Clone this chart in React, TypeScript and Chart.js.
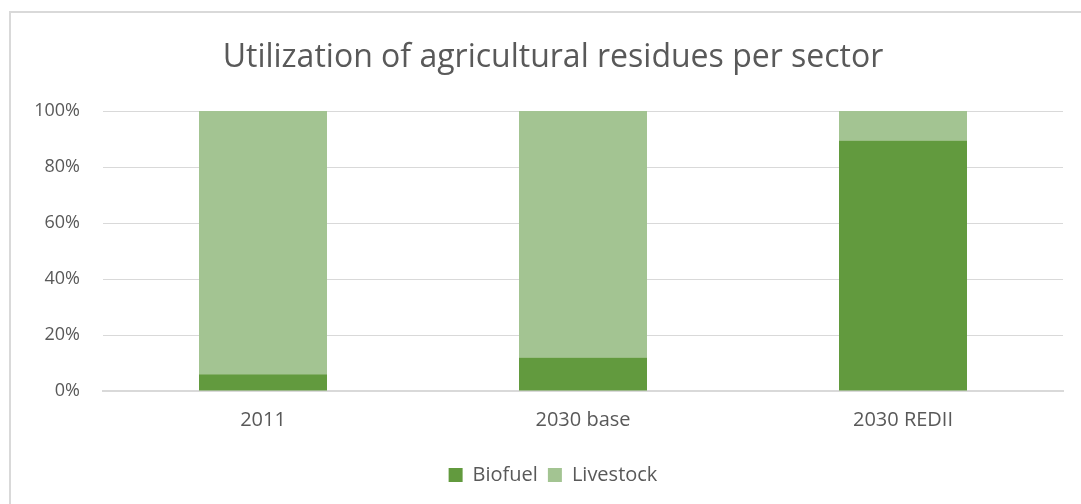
import React, { useEffect, useRef } from "react";
import { Chart, registerables } from "chart.js";

Chart.register(...registerables);

const categories = ["2011", "2030 base", "2030 REDII"];
const biofuel = [6, 12, 89.5];
const livestock = [94, 88, 10.5];
const yTicks = [0, 20, 40, 60, 80, 100];
const titleText = "Utilization of agricultural residues per sector";

const FONT = "'Open Sans', 'Noto Sans', sans-serif";
const TEXT = "#595959";
const GRID = "#D9D9D9";

const borderPlugin = {
  id: "frameBorder",
  beforeDraw(chart: any) {
    const ctx = chart.ctx;
    ctx.save();
    ctx.fillStyle = "#FFFFFF";
    ctx.fillRect(0, 0, chart.width, chart.height);
    ctx.fillStyle = GRID;
    ctx.fillRect(9, 11, 2, chart.height - 11);
    ctx.fillRect(9, 11, chart.width - 9, 2);
    ctx.restore();
  },
};

export default function App() {
  const ref = useRef<HTMLCanvasElement | null>(null);
  useEffect(() => {
    if (!ref.current) return;
    const chart = new Chart(ref.current, {
      type: "bar",
      data: {
        labels: categories,
        datasets: [
          { label: "Biofuel", data: biofuel, backgroundColor: "#629A3E", borderWidth: 0 },
          { label: "Livestock", data: livestock, backgroundColor: "#A3C492", borderWidth: 0 },
        ],
      },
      plugins: [borderPlugin],
      options: {
        animation: false,
        responsive: false,
        maintainAspectRatio: false,
        layout: { padding: { left: 43, right: 18, top: 0, bottom: 9 } },
        datasets: { bar: { categoryPercentage: 1, barPercentage: 0.4 } },
        plugins: {
          title: {
            display: true,
            text: titleText,
            color: TEXT,
            font: { family: FONT, size: 32, weight: "normal", lineHeight: 1.2 },
            padding: { top: 39, bottom: 33.6 },
          },
          legend: {
            position: "bottom",
            labels: {
              color: TEXT,
              font: { family: FONT, size: 20 },
              boxWidth: 14,
              boxHeight: 14,
              padding: 10,
            },
          },
          tooltip: { enabled: false },
        },
        scales: {
          x: {
            stacked: true,
            grid: { display: false, drawTicks: false },
            border: { display: true, color: GRID, width: 2 },
            ticks: { color: TEXT, font: { family: FONT, size: 20 }, padding: 17 },
            afterFit(scale: any) {
              scale.height = 64;
            },
          },
          y: {
            stacked: true,
            min: 0,
            max: 100,
            afterBuildTicks(scale: any) {
              scale.ticks = yTicks.map((v) => ({ value: v }));
            },
            grid: { color: GRID, lineWidth: 1, drawTicks: false },
            border: { display: false },
            ticks: {
              color: TEXT,
              font: { family: FONT, size: 18 },
              padding: 23,
              callback: (v: any) => v + "%",
            },
            afterFit(scale: any) {
              scale.width = 60;
              scale._computeLabelArea = () => undefined;
            },
          },
        },
      },
    });
    return () => chart.destroy();
  }, []);
  return (
    <div style={{ position: "absolute", left: 0, top: 0, width: 1081, height: 504 }}>
      <canvas ref={ref} width={1081} height={504} style={{ display: "block", width: 1081, height: 504 }} />
    </div>
  );
}
